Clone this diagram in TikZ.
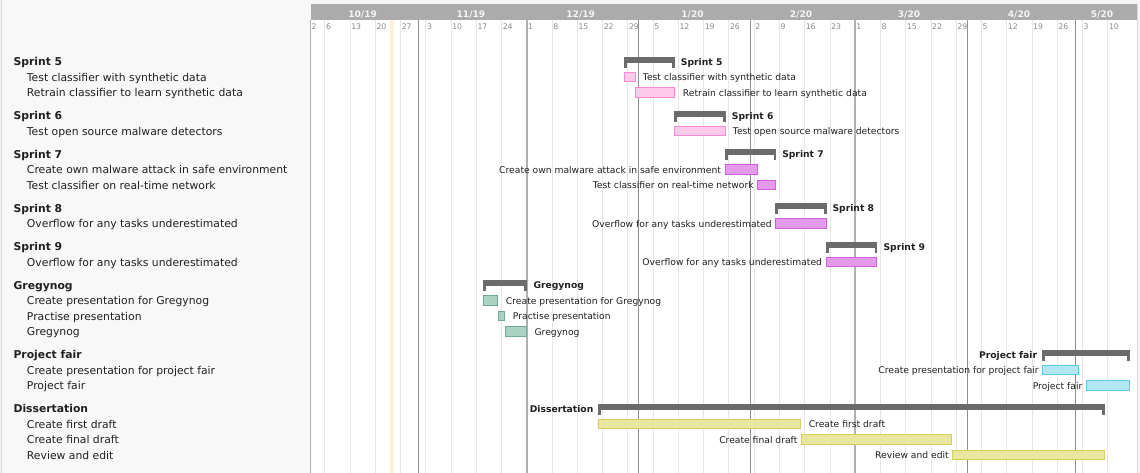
\documentclass[tikz,border=0pt]{standalone}
\usepackage{fontspec}
\setmainfont{DejaVu Sans}
\definecolor{pagebg}{HTML}{F6F6F6}
\definecolor{panelbg}{HTML}{F8F8F8}
\definecolor{panelline}{HTML}{D8D8D8}
\definecolor{bandc}{HTML}{ABABAB}
\definecolor{todayc}{HTML}{FCF1D6}
\definecolor{weekc}{HTML}{E6E6E6}
\definecolor{monthc}{HTML}{8E8E8E}
\definecolor{weeknumc}{HTML}{8A8A8A}
\definecolor{textc}{HTML}{202020}
\definecolor{sumc}{HTML}{6B6B6B}
\definecolor{pinkf}{HTML}{FFC9EC}\definecolor{pinkd}{HTML}{F78AD2}
\definecolor{purpf}{HTML}{E39AE9}\definecolor{purpd}{HTML}{CF5FDC}
\definecolor{greenf}{HTML}{AAD3C3}\definecolor{greend}{HTML}{72A894}
\definecolor{cyanf}{HTML}{B0E7F3}\definecolor{cyand}{HTML}{5CCBE6}
\definecolor{yellf}{HTML}{E9E6A0}\definecolor{yelld}{HTML}{D5D05D}
\tikzset{
  grouptxt/.style={font=\bfseries\fontsize{8.1pt}{9pt}\selectfont, text=textc, inner sep=0pt, anchor=base west},
  itemtxt/.style={font=\fontsize{8.1pt}{9pt}\selectfont, text=textc, inner sep=0pt, anchor=base west},
  barlbl/.style={font=\fontsize{6.9pt}{8pt}\selectfont, text=textc, inner sep=0pt},
  sumlbl/.style={font=\bfseries\fontsize{6.9pt}{8pt}\selectfont, text=textc, inner sep=0pt},
  monthlbl/.style={font=\bfseries\fontsize{6.8pt}{7.5pt}\selectfont, text=white!96!black, inner sep=0pt, anchor=base},
  weeknum/.style={font=\fontsize{5.8pt}{6.5pt}\selectfont, text=weeknumc, inner sep=0pt, anchor=base west},
  weekline/.style={draw=weekc, line width=0.75pt},
  monthline/.style={draw=monthc, line width=0.9pt},
  taskbar/.style={line width=0.75pt}
}
% summary bracket: #1 start, #2 end, #3 row centre
\newcommand{\sumbar}[3]{%
  \fill[sumc] (#1,{#3-4.3}) rectangle (#2,{#3+1.7});
  \fill[sumc] (#1,{#3+1.7}) rectangle ({#1+2.5},{#3+7});
  \fill[sumc] ({#2-2.5},{#3+1.7}) rectangle (#2,{#3+7});}
% task bar: #1 start, #2 end, #3 row centre, #4 fill, #5 border
\newcommand{\taskbar}[5]{%
  \filldraw[taskbar, fill=#4, draw=#5] ({#1+0.4},{#3-4.3}) rectangle ({#2-0.4},{#3+5.3});}
\begin{document}
\begin{tikzpicture}[x=0.75pt,y=-0.75pt]
\useasboundingbox (0,0) rectangle (1140,473);
% backgrounds
\fill[pagebg] (0,0) rectangle (1140,473);
\fill[panelbg] (1,0) rectangle (310.5,473);
\draw[panelline, line width=0.75pt] (1,0) -- (1,473);
\fill[white] (310.5,20) rectangle (1137,473);
\fill[bandc] (310.5,4) rectangle (1137,20);
\draw[panelline, line width=0.75pt] (1137,4) -- (1137,473);
% today column
\fill[todayc] (389.5,20) rectangle (393.5,473);
% week grid and week numbers (days counted from 2 Oct 2019)
\foreach \d/\lab in {0/2,4/6,11/13,18/20,25/27,32/3,39/10,46/17,53/24,60/1,67/8,74/15,81/22,88/29,95/5,102/12,109/19,116/26,123/2,130/9,137/16,144/23,151/1,158/8,165/15,172/22,179/29,186/5,193/12,200/19,207/26,214/3,221/10}{
  \draw[weekline] ({310.5+3.6077*\d},20) -- ({310.5+3.6077*\d},473);
  \node[weeknum] (wk\d) at ({311.3+3.6077*\d},29.2) {\lab};
}
% month boundaries
\draw[draw=panelline!80!black, line width=0.9pt] (310.7,20) -- (310.7,473);
\foreach \d in {30,91,122,182,212}{
  \draw[monthline] ({310.5+3.6077*\d},20) -- ({310.5+3.6077*\d},473);
}
\foreach \d in {60,151}{
  \draw[draw=monthc!70!white, line width=1.2pt] ({310.5+3.6077*\d},20) -- ({310.5+3.6077*\d},473);
}
% month names
\foreach \x/\lab/\n in {362.6/10\slash 19/m1,470.9/11\slash 19/m2,580.7/12\slash 19/m3,692.5/1\slash 20/m4,801/2\slash 20/m5,909/3\slash 20/m6,1019/4\slash 20/m7,1102/5\slash 20/m8}{
  \node[monthlbl] (\n) at (\x,17.2) {\lab};
}

% ---- task list ----
\node[grouptxt] (g5)  at (13.3,66)    {Sprint 5};
\node[itemtxt]  (t51) at (26.7,81.5)  {Test classifier with synthetic data};
\node[itemtxt]  (t52) at (26.7,97)    {Retrain classifier to learn synthetic data};
\node[grouptxt] (g6)  at (13.3,120)   {Sprint 6};
\node[itemtxt]  (t61) at (26.7,135.5) {Test open source malware detectors};
\node[grouptxt] (g7)  at (13.3,158.5) {Sprint 7};
\node[itemtxt]  (t71) at (26.7,174)   {Create own malware attack in safe environment};
\node[itemtxt]  (t72) at (26.7,189.5) {Test classifier on real-time network};
\node[grouptxt] (g8)  at (13.3,212.5) {Sprint 8};
\node[itemtxt]  (t81) at (26.7,228)   {Overflow for any tasks underestimated};
\node[grouptxt] (g9)  at (13.3,251)   {Sprint 9};
\node[itemtxt]  (t91) at (26.7,266.5) {Overflow for any tasks underestimated};
\node[grouptxt] (gg)  at (13.3,289.5) {Gregynog};
\node[itemtxt]  (tg1) at (26.7,305)   {Create presentation for Gregynog};
\node[itemtxt]  (tg2) at (26.7,320.5) {Practise presentation};
\node[itemtxt]  (tg3) at (26.7,336)   {Gregynog};
\node[grouptxt] (gp)  at (13.3,359)   {Project fair};
\node[itemtxt]  (tp1) at (26.7,374.5) {Create presentation for project fair};
\node[itemtxt]  (tp2) at (26.7,390)   {Project fair};
\node[grouptxt] (gd)  at (13.3,413)   {Dissertation};
\node[itemtxt]  (td1) at (26.7,428.5) {Create first draft};
\node[itemtxt]  (td2) at (26.7,444)   {Create final draft};
\node[itemtxt]  (td3) at (26.7,459.5) {Review and edit};

% ---- bars ----
% Sprint 5
\sumbar{624}{674.7}{61}
\node[sumlbl, anchor=base west] (b5) at (680.7,65.2) {Sprint 5};
\taskbar{624}{636}{76.5}{pinkf}{pinkd}
\node[barlbl, anchor=base west] (b51) at (642.7,80.7) {Test classifier with synthetic data};
\taskbar{635}{675}{92}{pinkf}{pinkd}
\node[barlbl, anchor=base west] (b52) at (682.7,96.2) {Retrain classifier to learn synthetic data};
% Sprint 6
\sumbar{674.3}{725.7}{115}
\node[sumlbl, anchor=base west] (b6) at (731.7,119.2) {Sprint 6};
\taskbar{674.3}{725.7}{130.5}{pinkf}{pinkd}
\node[barlbl, anchor=base west] (b61) at (732.7,134.7) {Test open source malware detectors};
% Sprint 7
\sumbar{725.3}{776}{153.5}
\node[sumlbl, anchor=base west] (b7) at (782,157.7) {Sprint 7};
\taskbar{725.3}{758}{169}{purpf}{purpd}
\node[barlbl, anchor=base east] (b71) at (721.3,173.2) {Create own malware attack in safe environment};
\taskbar{757}{776}{184.5}{purpf}{purpd}
\node[barlbl, anchor=base east] (b72) at (754,188.7) {Test classifier on real-time network};
% Sprint 8
\sumbar{775.3}{826.7}{207.5}
\node[sumlbl, anchor=base west] (b8) at (832.3,211.7) {Sprint 8};
\taskbar{775.3}{826.7}{223}{purpf}{purpd}
\node[barlbl, anchor=base east] (b81) at (772,227.2) {Overflow for any tasks underestimated};
% Sprint 9
\sumbar{826}{877.3}{246}
\node[sumlbl, anchor=base west] (b9) at (883.3,250.2) {Sprint 9};
\taskbar{826}{877.3}{261.5}{purpf}{purpd}
\node[barlbl, anchor=base east] (b91) at (822.3,265.7) {Overflow for any tasks underestimated};
% Gregynog
\sumbar{483.3}{526.7}{284.5}
\node[sumlbl, anchor=base west] (bg) at (533.3,288.7) {Gregynog};
\taskbar{483.3}{498.3}{300}{greenf}{greend}
\node[barlbl, anchor=base west] (bg1) at (505.7,304.2) {Create presentation for Gregynog};
\taskbar{497.7}{505.3}{315.5}{greenf}{greend}
\node[barlbl, anchor=base west] (bg2) at (512.7,319.7) {Practise presentation};
\taskbar{505}{527.3}{331}{greenf}{greend}
\node[barlbl, anchor=base west] (bg3) at (534.3,335.2) {Gregynog};
% Project fair
\sumbar{1042.3}{1129.5}{354}
\node[sumlbl, anchor=base east] (bp) at (1037.3,358.2) {Project fair};
\taskbar{1042.3}{1079}{369.5}{cyanf}{cyand}
\node[barlbl, anchor=base east] (bp1) at (1039,373.7) {Create presentation for project fair};
\taskbar{1085.7}{1130}{385}{cyanf}{cyand}
\node[barlbl, anchor=base east] (bp2) at (1082.7,389.2) {Project fair};
% Dissertation
\sumbar{598.4}{1104.6}{408}
\node[sumlbl, anchor=base east] (bd) at (593.6,412.2) {Dissertation};
\taskbar{598.4}{801.3}{423.5}{yellf}{yelld}
\node[barlbl, anchor=base west] (bd1) at (808.5,427.7) {Create first draft};
\taskbar{801}{952.3}{439}{yellf}{yelld}
\node[barlbl, anchor=base east] (bd2) at (797.7,443.2) {Create final draft};
\taskbar{952}{1104.6}{454.5}{yellf}{yelld}
\node[barlbl, anchor=base east] (bd3) at (949.1,458.7) {Review and edit};
\end{tikzpicture}
\end{document}
